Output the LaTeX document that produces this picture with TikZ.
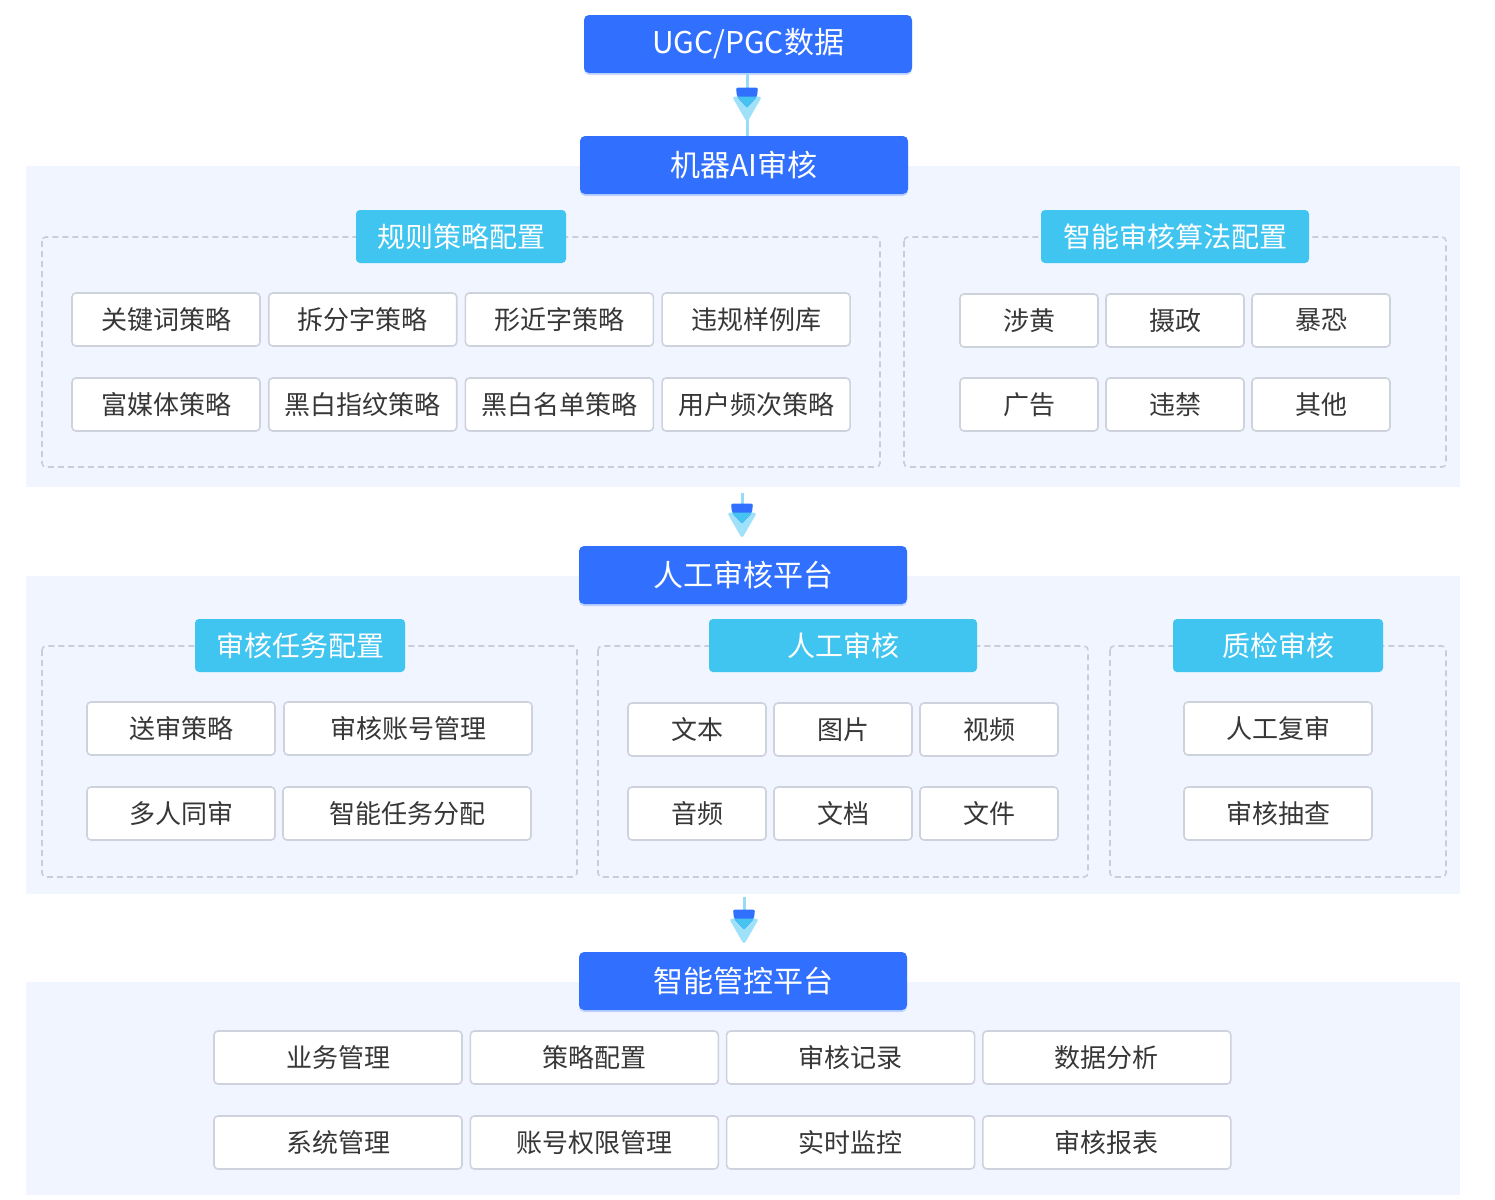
\documentclass[tikz,border=0pt]{standalone}
\usepackage{fontspec}
\setmainfont{Noto Sans CJK SC}
\usetikzlibrary{shadows,calc}

\definecolor{mainblue}{RGB}{49,112,255}
\definecolor{tagcyan}{RGB}{64,196,240}
\definecolor{panelbg}{RGB}{240,245,255}
\definecolor{groupline}{RGB}{200,205,215}
\definecolor{itemline}{RGB}{205,210,220}
\definecolor{itemtext}{RGB}{55,55,55}
\definecolor{stemblue}{RGB}{150,220,248}
\definecolor{tiplight}{RGB}{160,225,250}
\definecolor{tipmid}{RGB}{70,195,240}

\begin{document}
\begin{tikzpicture}[x=0.5pt,y=-0.5pt,
  head/.style={fill=mainblue, text=white, rounded corners=2.5pt,
    minimum width=164pt, minimum height=29pt, inner sep=0pt,
    font=\fontsize{15}{15}\selectfont,
    drop shadow={shadow xshift=0pt,shadow yshift=-1pt,fill=mainblue,opacity=0.25}},
  tag/.style={fill=tagcyan, text=white, rounded corners=2pt,
    minimum height=26.5pt, inner sep=0pt, font=\fontsize{14}{14}\selectfont},
  item/.style={draw=itemline, fill=white, line width=0.8pt, rounded corners=2pt,
    minimum height=26.5pt, inner sep=0pt, text=itemtext,
    font=\fontsize{13}{13}\selectfont},
  panel/.style={fill=panelbg},
  group/.style={draw=groupline, dash pattern=on 3pt off 2pt, line width=0.8pt, rounded corners=2pt},
  flowline/.style={draw=stemblue, line width=1.5pt},
  flowtip/.pic={
    \fill[tiplight, rounded corners=1.5pt] (-15,-33) -- (15,-33) -- (0,-7) -- cycle;
    \fill[mainblue, rounded corners=1pt] (-11,-42) -- (11,-42) -- (10,-33) -- (0,-22) -- (-10,-33) -- cycle;
    \fill[tipmid] (-10,-33) -- (10,-33) -- (0,-22) -- cycle;
  }]
  \useasboundingbox (0,0) rectangle (1495,1200);

  % panels
  \fill[panel] (26,166) rectangle (1460,487);
  \fill[panel] (26,576) rectangle (1460,894);
  \fill[panel] (26,982) rectangle (1460,1195);

  % machine review
  \draw[group] (42,237) rectangle (880,467);
  \draw[group] (904,237) rectangle (1446,467);
  \node[tag, minimum width=105pt] (rules) at (461,236.5) {规则策略配置};
  \node[tag, minimum width=134pt] (algo) at (1175,236.5) {智能审核算法配置};
  \foreach \t [count=\i] in {关键词策略,拆分字策略,形近字策略,违规样例库}
    \node[item, minimum width=94pt] (ra\i) at ({166+196.7*(\i-1)},319.5) {\t};
  \foreach \t [count=\i] in {富媒体策略,黑白指纹策略,黑白名单策略,用户频次策略}
    \node[item, minimum width=94pt] (rb\i) at ({166+196.7*(\i-1)},404.5) {\t};
  \foreach \t [count=\i] in {涉黄,摄政,暴恐}
    \node[item, minimum width=69pt] (aa\i) at ({1029+146*(\i-1)},320.5) {\t};
  \foreach \t [count=\i] in {广告,违禁,其他}
    \node[item, minimum width=69pt] (ab\i) at ({1029+146*(\i-1)},404.5) {\t};

  % manual review
  \draw[group] (42,646) rectangle (577,877);
  \draw[group] (598,646) rectangle (1088,877);
  \draw[group] (1110,646) rectangle (1446,877);
  \node[tag, minimum width=105pt] (task) at (300,645.5) {审核任务配置};
  \node[tag, minimum width=134pt] (manual) at (843,645.5) {人工审核};
  \node[tag, minimum width=105pt] (qc) at (1278,645.5) {质检审核};
  \node[item, minimum width=94pt] (ta1) at (181,728.5) {送审策略};
  \node[item, minimum width=124pt] (ta2) at (408,728.5) {审核账号管理};
  \node[item, minimum width=94pt] (tb1) at (181,813.5) {多人同审};
  \node[item, minimum width=124pt] (tb2) at (407,813.5) {智能任务分配};
  \foreach \t [count=\i] in {文本,图片,视频}
    \node[item, minimum width=69pt] (ma\i) at ({697+146*(\i-1)},729.5) {\t};
  \foreach \t [count=\i] in {音频,文档,文件}
    \node[item, minimum width=69pt] (mb\i) at ({697+146*(\i-1)},813.5) {\t};
  \node[item, minimum width=94pt] (qa) at (1278,728.5) {人工复审};
  \node[item, minimum width=94pt] (qb) at (1278,813.5) {审核抽查};

  % control platform
  \foreach \t [count=\i] in {业务管理,策略配置,审核记录,数据分析}
    \node[item, minimum width=124pt] (ca\i) at ({338+256.3*(\i-1)},1057.5) {\t};
  \foreach \t [count=\i] in {系统管理,账号权限管理,实时监控,审核报表}
    \node[item, minimum width=124pt] (cb\i) at ({338+256.3*(\i-1)},1142.5) {\t};

  % main stages
  \node[head] (ugc) at (748,44) {UGC/PGC数据};
  \node[head] (ai) at (744,165) {机器AI审核};
  \node[head] (human) at (743,575) {人工审核平台};
  \node[head] (ctrl) at (743,981) {智能管控平台};

  % flow arrows
  \coordinate (aiout) at (742,493);
  \coordinate (humanout) at (744,897);
  \draw[flowline] (ugc.south -| 747,0) -- (ai.north -| 747,0);
  \pic at ([yshift=3pt]ai.north -| 747,0) {flowtip};
  \draw[flowline] (aiout) -- ($(human.north -| aiout)+(0,-38)$);
  \pic at (human.north -| aiout) {flowtip};
  \draw[flowline] (humanout) -- ($(ctrl.north -| humanout)+(0,-38)$);
  \pic at (ctrl.north -| humanout) {flowtip};
\end{tikzpicture}
\end{document}
